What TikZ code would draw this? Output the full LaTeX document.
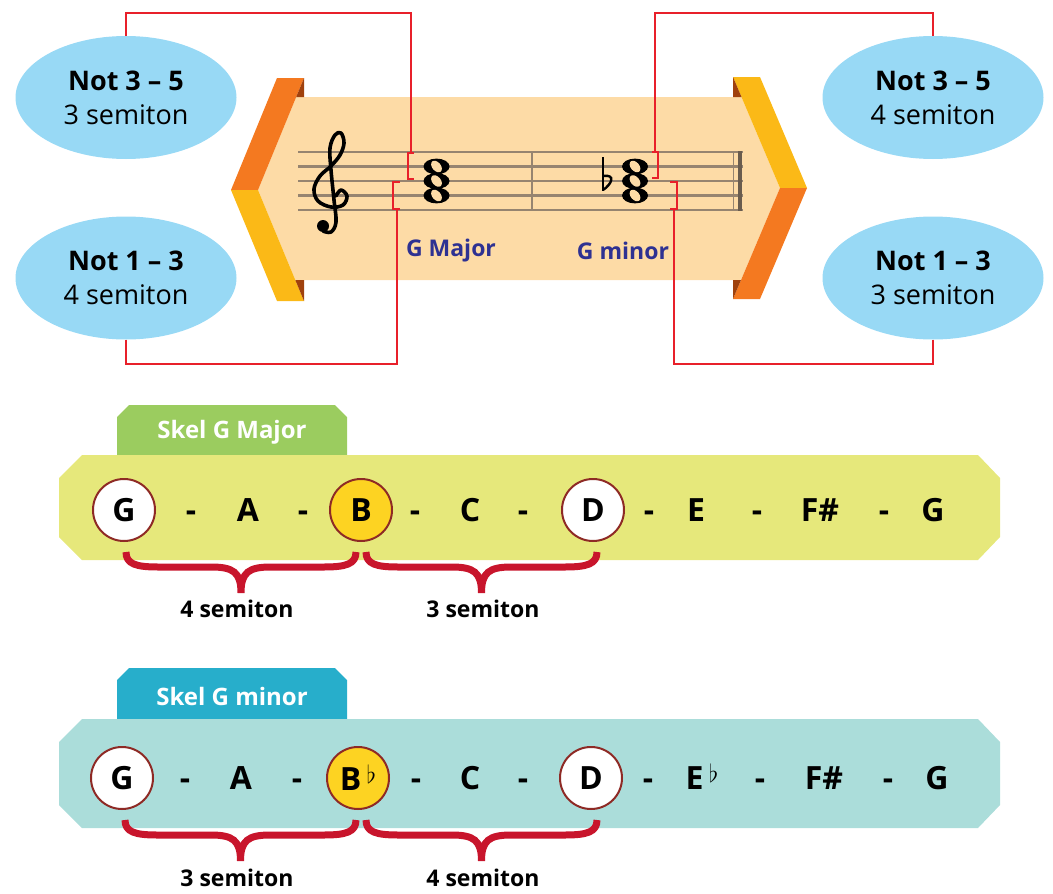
\documentclass[tikz,border=0pt]{standalone}
\usepackage{fontspec}
\setmainfont{Open Sans}
\usetikzlibrary{shapes.geometric}
\usetikzlibrary{positioning}
\usetikzlibrary{calc}

\definecolor{bubble}{RGB}{152,217,245}
\definecolor{linkred}{RGB}{232,32,42}
\definecolor{peach}{RGB}{253,219,166}
\definecolor{bandorange}{RGB}{244,121,32}
\definecolor{bandyellow}{RGB}{251,185,23}
\definecolor{bandbrown}{RGB}{160,65,13}
\definecolor{staffgray}{RGB}{150,132,112}
\definecolor{chordblue}{RGB}{46,49,146}
\definecolor{tabgreen}{RGB}{155,204,95}
\definecolor{baryellow}{RGB}{230,232,123}
\definecolor{tabblue}{RGB}{39,174,203}
\definecolor{barteal}{RGB}{171,221,218}
\definecolor{ringred}{RGB}{142,42,37}
\definecolor{keyyellow}{RGB}{253,211,34}
\definecolor{bracered}{RGB}{200,21,44}

\tikzset{
  bubblenode/.style={ellipse, fill=bubble, minimum width=221pt, minimum height=123pt,
    inner sep=0pt, align=center, font=\fontsize{27}{34}\selectfont},
  link/.style={draw=linkred, line width=1.8pt},
  staffline/.style={staffgray, line width=2.2pt},
  chordlbl/.style={text=chordblue, font=\bfseries\fontsize{23}{28}\selectfont},
  tabtxt/.style={text=white, font=\bfseries\fontsize{24}{28}\selectfont},
  letter/.style={inner sep=0pt, font=\bfseries\fontsize{32}{36}\selectfont},
  keyring/.style={letter, circle, draw=ringred, line width=2pt, minimum size=62pt},
  semibrace/.style={bracered, line width=7pt},
  semilbl/.style={font=\bfseries\fontsize{23}{28}\selectfont},
}

% flat sign after a note name
\newcommand\flatsign{\,\raisebox{7pt}{\normalfont\fontsize{25}{25}\selectfont$\flat$}}

% brace under two key notes (#3, #4: shift of the two ends)
\newcommand\semibrace[4]{%
  \draw[semibrace] let \p1=($(#1.south)+(#3,10)$), \p2=($(#2.south)+(#4,10)$),
    \p3=($(\p1)!0.5!(\p2)$) in
    (\p1) .. controls (\x1,\y1-12pt) and (\x1+10pt,\y1-15pt) .. (\x1+32pt,\y1-15pt)
    -- (\x3-30pt,\y1-15pt) .. controls (\x3-8pt,\y1-15pt) and (\x3,\y1-20pt) .. (\x3,\y1-41pt)
    .. controls (\x3,\y1-20pt) and (\x3+8pt,\y1-15pt) .. (\x3+30pt,\y1-15pt)
    -- (\x2-32pt,\y1-15pt) .. controls (\x2-10pt,\y1-15pt) and (\x2,\y1-12pt) .. (\p2);
}

\begin{document}
\begin{tikzpicture}[x=1pt,y=-1pt]
\useasboundingbox (0,0) rectangle (1053,894);

%---------------------------------------
% Banner with the two chords
%---------------------------------------
\fill[peach] (296.2,97) -- (741.5,97) -- (780,188) -- (741,280) -- (295.3,280) -- (258,190) -- cycle;

% Left chevron
\fill[bandorange] (231,190) -- (277,78) -- (304,78) -- (258,190) -- cycle;
\fill[bandyellow] (231,190) -- (258,190) -- (304,301) -- (277,301) -- cycle;
\fill[bandbrown] (304,78) -- (304,97) -- (296.2,97) -- cycle;
\fill[bandbrown] (304,301) -- (304,280) -- (295.3,280) -- cycle;

% Right chevron
\fill[bandyellow] (733,77) -- (760,77) -- (807,188) -- (780,188) -- cycle;
\fill[bandorange] (780,188) -- (807,188) -- (760,299) -- (733,299) -- cycle;
\fill[bandbrown] (733,77) -- (741.5,97) -- (733,97) -- cycle;
\fill[bandbrown] (733,299) -- (741,280) -- (733,280) -- cycle;

% Staff
\foreach \y in {152,166.5,181,195.5,210}
  \draw[staffline] (298,\y) -- (743,\y);
\draw[staffline] (532,151) -- (532,211);
\draw[staffline, line width=1.6pt] (733.5,151) -- (733.5,211);
\draw[staffgray!70!black, line width=4pt] (740,151) -- (740,211);

% Treble clef
\draw[line width=3.6pt, line cap=round, line join=round] plot[smooth, tension=0.6] coordinates {
  (336,196) (341,190) (347,196) (343,205) (331,207) (318,201) (314,189) (320,176)
  (331,166) (340,155) (344,143) (341,133) (335,135) (330,148) (331,170) (334,200)
  (336,222) (331,232) (323,231)};
\fill (323,226) circle (6);

% Chords (whole notes)
\foreach \x in {436.5,635} {
  \foreach \y in {166.5,181,195.5}
    \fill (\x,\y) ellipse (13 and 7.9);
  \foreach \y in {166.5,181,195.5}
    \fill[peach, rotate around={40:(\x,\y)}] (\x,\y) ellipse (4.3 and 6.6);
}
% flat
\draw[line width=1.6pt] (603,157) -- (603,191);
\draw[line width=2.4pt] (603,190) .. controls (612,184) and (616,174) .. (603,176);

\node[chordlbl] (lblmaj) at (451,251) {G Major};
\node[chordlbl] (lblmin) at (623,251) {G minor};

%---------------------------------------
% Interval bubbles and links
%---------------------------------------
\node[bubblenode] (majfifth) at (126,97.5) {\textbf{Not 3 – 5}\\3 semiton};
\node[bubblenode] (majthird) at (126,278) {\textbf{Not 1 – 3}\\4 semiton};
\node[bubblenode] (minfifth) at (933,97.5) {\textbf{Not 3 – 5}\\4 semiton};
\node[bubblenode] (minthird) at (933,278) {\textbf{Not 1 – 3}\\3 semiton};

% brackets on the chords
\coordinate (bkmajtop) at (411,153);
\coordinate (bkmajbot) at (397,209);
\coordinate (bkmintop) at (655,152);
\coordinate (bkminbot) at (674,209);
\draw[link] (414,153) -| (408,179) -- (414,179);
\draw[link] (400,182) -| (393,209) -- (400,209);
\draw[link] (652,152) -| (658,178) -- (652,178);
\draw[link] (670,182) -| (677,209) -- (670,209);

\draw[link] (majfifth.north) -- ++(0,-23) -| (bkmajtop);
\draw[link] (majthird.south) -- ++(0,24) -| (bkmajbot);
\draw[link] (minfifth.north) -- ++(0,-23) -| (bkmintop);
\draw[link] (minthird.south) -- ++(0,24) -| (bkminbot);

%---------------------------------------
% Scale of G major
%---------------------------------------
\fill[tabgreen] (117,455) -- (117,417) -- (129,405) -- (335,405) -- (347,417) -- (347,455) -- cycle;
\node[tabtxt] (tabmaj) at (232,432) {Skel G Major};
\fill[baryellow] (59,478) -- (82,455) -- (978,455) -- (1000,478) -- (1000,537) -- (978,560)
  -- (82,560) -- (59,537) -- cycle;

\node[keyring, fill=white] (majG) at (124,510) {G};
\node[keyring, fill=keyyellow] (majB) at (361,510) {B};
\node[keyring, fill=white] (majD) at (593,510) {D};
\foreach \x/\t in {191/-, 248/A, 303/-, 415/-, 470/C, 523/-, 649/-, 696/E, 757/-,
                   820/F\#, 884/-, 933/G}
  \node[letter, anchor=base] at (\x,521.5) {\t};

\semibrace{majG}{majB}{2}{-5}
\semibrace{majB}{majD}{5}{4}
\node[semilbl] (majlow) at (237,609) {4 semiton};
\node[semilbl] (majup) at (483,609) {3 semiton};

%---------------------------------------
% Scale of G minor
%---------------------------------------
\fill[tabblue] (117,719) -- (117,680) -- (129,668) -- (335,668) -- (347,680) -- (347,719) -- cycle;
\node[tabtxt] (tabmin) at (232,696) {Skel G minor};
\fill[barteal] (59,742) -- (82,719) -- (978,719) -- (1000,742) -- (1000,805) -- (978,828)
  -- (82,828) -- (59,805) -- cycle;

\node[keyring, fill=white] (minG) at (122,778) {G};
\node[keyring, fill=keyyellow] (minB) at (358,778) {B\flatsign};
\node[keyring, fill=white] (minD) at (591,778) {D};
\foreach \x/\t in {185/-, 241/A, 297/-, 416/-, 470/C, 523/-, 648/-, 760/-,
                   824/F\#, 888/-, 937/G}
  \node[letter, anchor=base] at (\x,789.5) {\t};
\node[letter, anchor=base] (minE) at (702,789.5) {E\flatsign};

\semibrace{minG}{minB}{3}{-2}
\semibrace{minB}{minD}{8}{6}
\node[semilbl] (minlow) at (237,878) {3 semiton};
\node[semilbl] (minup) at (483,878) {4 semiton};

\end{tikzpicture}
\end{document}
